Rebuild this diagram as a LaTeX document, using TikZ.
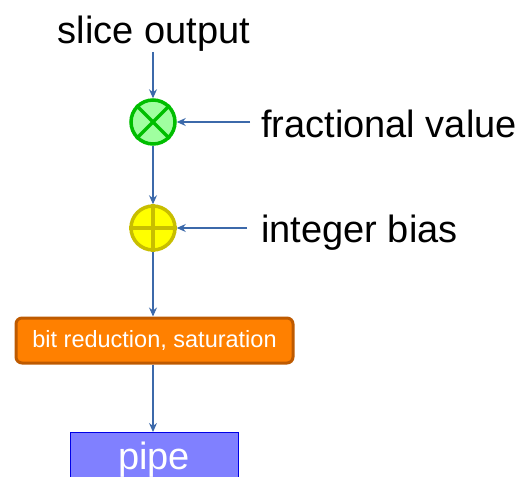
\documentclass[tikz,border=0pt]{standalone}
\usepackage{fontspec}
\setmainfont{Liberation Sans}
\usetikzlibrary{arrows.meta}
\definecolor{arrowblue}{RGB}{60,105,170}
\definecolor{mulfill}{RGB}{160,255,160}
\definecolor{muldraw}{RGB}{0,190,0}
\definecolor{addfill}{RGB}{255,255,0}
\definecolor{adddraw}{RGB}{200,190,0}
\definecolor{orfill}{RGB}{255,128,0}
\definecolor{ordraw}{RGB}{190,90,0}
\definecolor{pipefill}{RGB}{128,128,255}
\definecolor{pipedraw}{RGB}{0,0,230}
\tikzset{
  bigtext/.style={font=\fontsize{38}{40}\selectfont, inner sep=0pt, anchor=base},
  conn/.style={draw=arrowblue, line width=1.1pt, -{Stealth[length=9pt,width=8pt,inset=3pt]}},
  opcircle/.style={circle, minimum size=44pt, inner sep=0pt, line width=3.5pt},
}
\begin{document}
\begin{tikzpicture}[x=1pt,y=-1pt]
\useasboundingbox (0,0) rectangle (518,476);
\node[bigtext] (slice) at (154,44) {slice output};
\node[bigtext, anchor=base west] (frac) at (261,137) {fractional value};
\node[bigtext, anchor=base west] (bias) at (261,242) {integer bias};
\node[opcircle, draw=muldraw, fill=mulfill] (mul) at (153,122) {};
\draw[muldraw, line width=3.5pt] (mul.north east) -- (mul.south west) (mul.north west) -- (mul.south east);
\node[opcircle, draw=adddraw, fill=addfill] (add) at (153,228) {};
\draw[adddraw, line width=3.5pt] (add.north) -- (add.south) (add.west) -- (add.east);
\node[draw=ordraw, fill=orfill, line width=3pt, rounded corners=6pt, minimum width=277pt, minimum height=45pt, text=white, font=\fontsize{23.5}{25}\selectfont] (red) at (154.5,340.5) {bit reduction, saturation};
\node[draw=pipedraw, fill=pipefill, line width=1pt, minimum width=168pt, minimum height=60pt, anchor=north] (pipe) at (154,432) {};
\node[text=white, bigtext] (pipetxt) at (154,469) {pipe};
\coordinate (fracend) at (250,122);
\coordinate (biasend) at (247,228);
\draw[conn] (153,52) -- (mul.north);
\draw[conn] (fracend) -- (mul.east);
\draw[conn] (mul.south) -- (add.north);
\draw[conn] (biasend) -- (add.east);
\draw[conn] (add.south) -- (add.south |- red.north);
\draw[conn] (add.south |- red.south) -- (add.south |- pipe.north);
\end{tikzpicture}
\end{document}
